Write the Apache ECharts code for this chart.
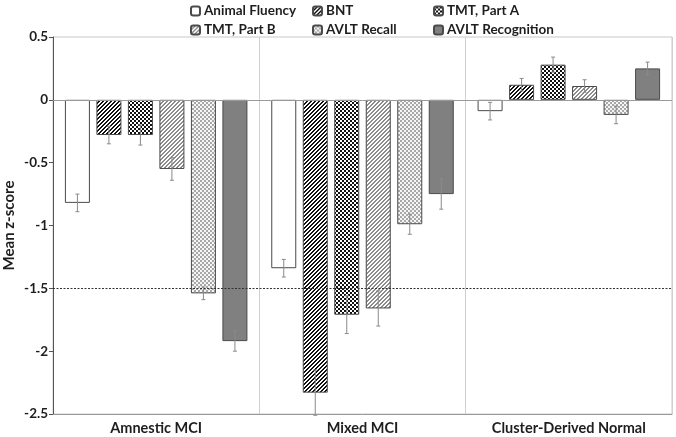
<!DOCTYPE html>
<html>
<head>
<meta charset="utf-8">
<script src="https://cdn.jsdelivr.net/npm/echarts@6/dist/echarts.min.js"></script>
<style>html,body{margin:0;padding:0;background:#fff}#c{width:676px;height:437px}</style>
</head>
<body>
<div id="c"></div>
<script>
// ---- data ----
const categories = ['Amnestic MCI', 'Mixed MCI', 'Cluster-Derived Normal'];
const seriesNames = ['Animal Fluency', 'BNT', 'TMT, Part A', 'TMT, Part B', 'AVLT Recall', 'AVLT Recognition'];
const animalFluency   = [-0.82, -1.34, -0.09];
const bnt             = [-0.28, -2.33, 0.12];
const tmtA            = [-0.28, -1.71, 0.28];
const tmtB            = [-0.55, -1.66, 0.11];
const avltRecall      = [-1.54, -0.99, -0.12];
const avltRecognition = [-1.92, -0.75, 0.25];
const errAnimalFluency   = [0.07, 0.07, 0.07];
const errBnt             = [0.07, 0.18, 0.05];
const errTmtA            = [0.08, 0.15, 0.06];
const errTmtB            = [0.09, 0.14, 0.05];
const errAvltRecall      = [0.05, 0.08, 0.07];
const errAvltRecognition = [0.08, 0.12, 0.05];
const yTicks = [0.5, 0, -0.5, -1, -1.5, -2, -2.5];
const threshold = -1.5;

const values = [animalFluency, bnt, tmtA, tmtB, avltRecall, avltRecognition];
const errors = [errAnimalFluency, errBnt, errTmtA, errTmtB, errAvltRecall, errAvltRecognition];

// ---- pattern fills ----
function pat(size, draw) {
  const c = document.createElement('canvas');
  c.width = size; c.height = size;
  const ctx = c.getContext('2d');
  draw(ctx, size);
  return { image: c, repeat: 'repeat' };
}
const fills = [
  '#ffffff',
  pat(4, (ctx) => { ctx.fillStyle = '#fff'; ctx.fillRect(0,0,4,4); ctx.fillStyle = '#111';
    for (let y = 0; y < 4; y++) { ctx.fillRect((3 - y) % 4, y, 1, 1); ctx.fillRect((4 - y) % 4, y, 1, 1); } }),
  pat(4, (ctx) => { ctx.fillStyle = '#111'; ctx.fillRect(0,0,4,4); ctx.fillStyle = '#fff';
    ctx.fillRect(0,0,2,2); ctx.fillRect(2,2,2,2); }),
  pat(4, (ctx) => { ctx.fillStyle = '#fff'; ctx.fillRect(0,0,4,4); ctx.fillStyle = '#8c8c8c';
    for (let y = 0; y < 4; y++) { ctx.fillRect((3 - y) % 4, y, 1, 1); ctx.fillRect((4 - y) % 4, y, 1, 1); } }),
  pat(4, (ctx) => { ctx.fillStyle = '#f6f6f6'; ctx.fillRect(0,0,4,4); ctx.fillStyle = '#a8a8a8';
    ctx.fillRect(0,0,2,2); ctx.fillRect(2,2,2,2); }),
  '#808080'
];

const BAR_W = 25, GAP = 6.5;
const FONT = 'Lato, "Open Sans", sans-serif';
const TXT = '#1e1e1e';

const series = seriesNames.map((name, i) => ({
  name, type: 'bar', data: values[i], barWidth: BAR_W, barGap: (GAP / BAR_W * 100) + '%',
  itemStyle: { color: fills[i], borderColor: '#4a4a4a', borderWidth: 1 },
  emphasis: { disabled: true }, animation: false
}));
series[0].markLine = {
  silent: true, symbol: 'none', animation: false, label: { show: false },
  data: [
    { yAxis: 0, lineStyle: { color: '#9a9a9a', type: 'solid', width: 1 } },
    { yAxis: threshold, lineStyle: { color: '#333', type: [2, 1.5], width: 1 } }
  ]
};

const errData = [];
values.forEach((arr, s) => arr.forEach((v, c) => errData.push([c, v, errors[s][c], s])));
series.push({
  type: 'custom', data: errData, encode: { x: 0, y: 1 }, z: 5, silent: true, animation: false,
  renderItem: (params, api) => {
    const c = api.value(0), v = api.value(1), e = api.value(2), s = api.value(3);
    const n = seriesNames.length;
    const dx = (s - (n - 1) / 2) * (BAR_W + GAP);
    const top = api.coord([c, v + e]), bot = api.coord([c, v - e]);
    const x = top[0] + dx;
    const st = { stroke: '#8a8a8a', lineWidth: 1 };
    return { type: 'group', children: [
      { type: 'line', shape: { x1: x, y1: top[1], x2: x, y2: bot[1] }, style: st },
      { type: 'line', shape: { x1: x - 2, y1: top[1], x2: x + 2, y2: top[1] }, style: st },
      { type: 'line', shape: { x1: x - 2, y1: bot[1], x2: x + 2, y2: bot[1] }, style: st }
    ] };
  }
});

const legendCols = [[0, 3], [1, 4], [2, 5]];
const legendLeft = [190, 312, 433];
const legend = legendCols.map((idx, k) => ({
  orient: 'vertical', left: legendLeft[k], top: 4, padding: 0, itemWidth: 9, itemHeight: 9, itemGap: 5,
  data: idx.map(i => seriesNames[i]), selectedMode: false,
  textStyle: { fontFamily: FONT, fontWeight: 'bold', fontSize: 13.5, color: TXT, padding: [0, 0, 0, -1] }
}));

const chart = echarts.init(document.getElementById('c'), null, { renderer: 'canvas' });
chart.setOption({
  animation: false,
  legend,
  grid: { left: 53, right: 4, top: 37, bottom: 23, show: true, borderColor: '#c8c8c8', borderWidth: 1,
    outerBoundsMode: 'none', containLabel: false },
  xAxis: {
    type: 'category', data: categories,
    axisLine: { onZero: false, lineStyle: { color: '#9a9a9a' } },
    axisTick: { show: false },
    splitLine: { show: true, lineStyle: { color: '#d0d0d0' } },
    axisLabel: { fontFamily: FONT, fontWeight: 'bold', fontSize: 14.5, color: TXT, margin: 7 }
  },
  yAxis: {
    type: 'value', min: yTicks[yTicks.length - 1], max: yTicks[0], interval: 0.5,
    name: 'Mean z-score', nameLocation: 'middle', nameGap: 36, nameMoveOverlap: false,
    nameTextStyle: { fontFamily: FONT, fontWeight: 'bold', fontSize: 15, color: TXT },
    axisLine: { show: true, lineStyle: { color: '#555' } },
    axisTick: { show: true, length: 4, lineStyle: { color: '#555' } },
    splitLine: { show: false },
    axisLabel: { fontFamily: FONT, fontWeight: 'bold', fontSize: 13.5, color: TXT, margin: 5,
      formatter: v => String(v) }
  },
  series
});
</script>
</body>
</html>
